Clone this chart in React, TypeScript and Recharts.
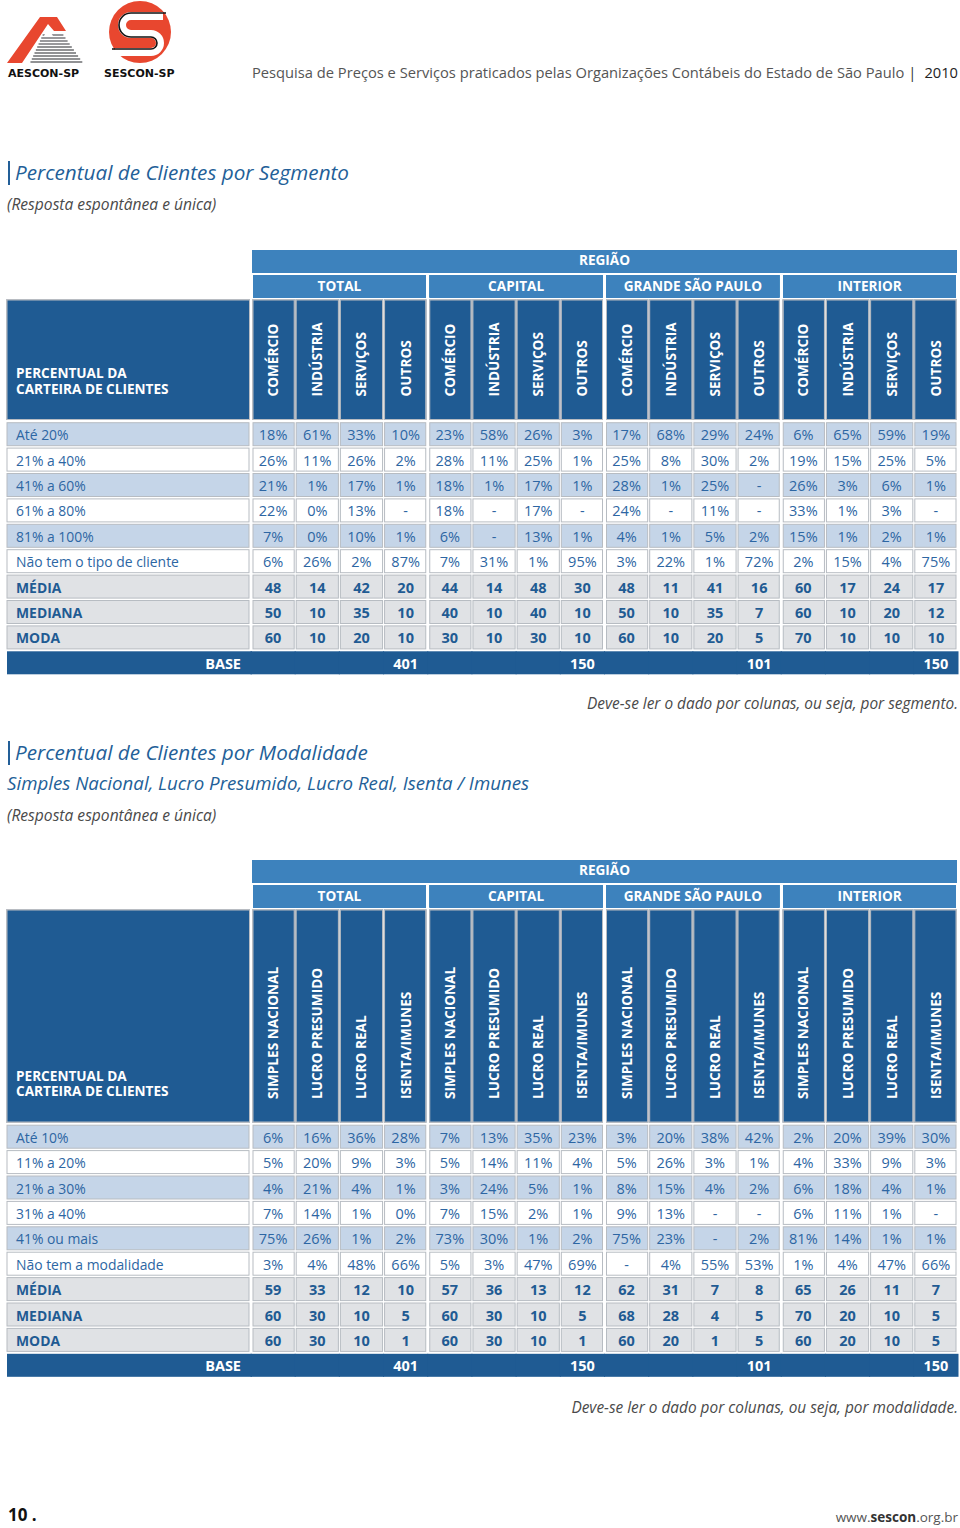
import React from 'react';
import { ScatterChart, Scatter, XAxis, YAxis } from 'recharts';

// header labels
const regionTitle = 'REGIÃO';
const regions = ['TOTAL', 'CAPITAL', 'GRANDE SÃO PAULO', 'INTERIOR'];
const segmentCols = ['COMÉRCIO', 'INDÚSTRIA', 'SERVIÇOS', 'OUTROS'];
const modalCols = ['SIMPLES NACIONAL', 'LUCRO PRESUMIDO', 'LUCRO REAL', 'ISENTA/IMUNES'];
const cornerLines = ['PERCENTUAL DA', 'CARTEIRA DE CLIENTES'];
const statLabels = ['MÉDIA', 'MEDIANA', 'MODA'];
const baseLabel = 'BASE';
const bases = ['401', '150', '101', '150'];

// table 1: por segmento
const segmentRows = ['Até 20%', '21% a 40%', '41% a 60%', '61% a 80%', '81% a 100%', 'Não tem o tipo de cliente', 'MÉDIA', 'MEDIANA', 'MODA'];
const segmentValues = [
  ['18%', '61%', '33%', '10%', '23%', '58%', '26%', '3%', '17%', '68%', '29%', '24%', '6%', '65%', '59%', '19%'],
  ['26%', '11%', '26%', '2%', '28%', '11%', '25%', '1%', '25%', '8%', '30%', '2%', '19%', '15%', '25%', '5%'],
  ['21%', '1%', '17%', '1%', '18%', '1%', '17%', '1%', '28%', '1%', '25%', '-', '26%', '3%', '6%', '1%'],
  ['22%', '0%', '13%', '-', '18%', '-', '17%', '-', '24%', '-', '11%', '-', '33%', '1%', '3%', '-'],
  ['7%', '0%', '10%', '1%', '6%', '-', '13%', '1%', '4%', '1%', '5%', '2%', '15%', '1%', '2%', '1%'],
  ['6%', '26%', '2%', '87%', '7%', '31%', '1%', '95%', '3%', '22%', '1%', '72%', '2%', '15%', '4%', '75%'],
  ['48', '14', '42', '20', '44', '14', '48', '30', '48', '11', '41', '16', '60', '17', '24', '17'],
  ['50', '10', '35', '10', '40', '10', '40', '10', '50', '10', '35', '7', '60', '10', '20', '12'],
  ['60', '10', '20', '10', '30', '10', '30', '10', '60', '10', '20', '5', '70', '10', '10', '10'],
];

// table 2: por modalidade
const modalRows = ['Até 10%', '11% a 20%', '21% a 30%', '31% a 40%', '41% ou mais', 'Não tem a modalidade', 'MÉDIA', 'MEDIANA', 'MODA'];
const modalValues = [
  ['6%', '16%', '36%', '28%', '7%', '13%', '35%', '23%', '3%', '20%', '38%', '42%', '2%', '20%', '39%', '30%'],
  ['5%', '20%', '9%', '3%', '5%', '14%', '11%', '4%', '5%', '26%', '3%', '1%', '4%', '33%', '9%', '3%'],
  ['4%', '21%', '4%', '1%', '3%', '24%', '5%', '1%', '8%', '15%', '4%', '2%', '6%', '18%', '4%', '1%'],
  ['7%', '14%', '1%', '0%', '7%', '15%', '2%', '1%', '9%', '13%', '-', '-', '6%', '11%', '1%', '-'],
  ['75%', '26%', '1%', '2%', '73%', '30%', '1%', '2%', '75%', '23%', '-', '2%', '81%', '14%', '1%', '1%'],
  ['3%', '4%', '48%', '66%', '5%', '3%', '47%', '69%', '-', '4%', '55%', '53%', '1%', '4%', '47%', '66%'],
  ['59', '33', '12', '10', '57', '36', '13', '12', '62', '31', '7', '8', '65', '26', '11', '7'],
  ['60', '30', '10', '5', '60', '30', '10', '5', '68', '28', '4', '5', '70', '20', '10', '5'],
  ['60', '30', '10', '1', '60', '30', '10', '1', '60', '20', '1', '5', '60', '20', '10', '5'],
];

const FONT = '"Open Sans", "Noto Sans", sans-serif';
const DARK = '#1f5b93';
const MID = '#3d82bd';
const LIGHT = '#c5d5e8';
const GREY = '#e0e2e5';
const LINE = '#b7bcc2';
const TEXT_BLUE = '#2d66a3';

const CHART_W = 960;
const RIGHT = 2;
const LEFT = 7;
const LABEL_W = 244;
const PLOT_LEFT = LEFT + LABEL_W;
const COL_W = (CHART_W - RIGHT - PLOT_LEFT) / 16;
const ROW_H = 25.4;
const HEAD_FS = 13.6;
const VAL_FS = 14.5;
const LABEL_FS = 13.9;

function rowFill(label: string, ri: number) {
  if (label === baseLabel) return DARK;
  if (statLabels.includes(label)) return GREY;
  return ri % 2 === 0 ? LIGHT : '#ffffff';
}

function SurveyTable({ cols, rows, values, headerH }: { cols: string[]; rows: string[]; values: string[][]; headerH: number }) {
  const colKeys = regions.flatMap((g) => cols.map((c) => `${g}|${c}`));
  const allRows = [...rows, baseLabel];
  const points = allRows.flatMap((row, ri) =>
    colKeys.map((col, ci) => ({
      col,
      row,
      ri,
      ci,
      v: row === baseLabel ? (ci % 4 === 3 ? bases[Math.floor(ci / 4)] : '') : values[ri][ci],
    }))
  );
  const height = headerH + allRows.length * ROW_H + 2;
  const colTop = 50;
  const colBottom = headerH - 2;

  const renderColTick = (props: any) => {
    const { x, payload } = props;
    const ci = colKeys.indexOf(payload.value);
    const [grp, name] = String(payload.value).split('|');
    const left = x - COL_W / 2;
    const gl = ci % 4 === 0 ? 1 : 0;
    const gr = ci % 4 === 3 ? 1 : 0;
    return (
      <g>
        {ci === 0 && (
          <g>
            <rect x={left + 1} y={0} width={COL_W * 16 - 2} height={22.5} fill={MID} />
            <text x={left + COL_W * 8} y={15} textAnchor="middle" fill="#fff" fontWeight={700} fontSize={HEAD_FS} fontFamily={FONT}>
              {regionTitle}
            </text>
            <rect x={LEFT} y={colTop} width={PLOT_LEFT - LEFT - 1.5} height={colBottom - colTop} fill={DARK} stroke={LINE} />
            <text x={LEFT + 9} y={headerH - 43.5} fill="#fff" fontWeight={700} fontSize={HEAD_FS} fontFamily={FONT}>
              {cornerLines.map((t, i) => (
                <tspan key={t} x={LEFT + 9} dy={i === 0 ? 0 : 15.5}>
                  {t}
                </tspan>
              ))}
            </text>
          </g>
        )}
        {ci % 4 === 0 && (
          <g>
            <rect x={left + 2} y={25} width={COL_W * 4 - 4} height={22.5} fill={MID} />
            <text x={left + COL_W * 2} y={41} textAnchor="middle" fill="#fff" fontWeight={700} fontSize={HEAD_FS} fontFamily={FONT}>
              {grp}
            </text>
          </g>
        )}
        <rect x={left + 1 + gl} y={colTop} width={COL_W - 2 - gl - gr} height={colBottom - colTop} fill={DARK} stroke={LINE} />
        <g transform={`translate(${x + 5} ${headerH - 25}) rotate(-90)`}>
          <text x={0} y={0} fill="#fff" fontWeight={700} fontSize={HEAD_FS} fontFamily={FONT}>
            {name}
          </text>
        </g>
      </g>
    );
  };

  const renderRowTick = (props: any) => {
    const { y, payload } = props;
    const label = String(payload.value);
    const ri = allRows.indexOf(label);
    const top = y - ROW_H / 2 + 1.2;
    if (label === baseLabel) {
      return (
        <g>
          <rect x={LEFT} y={top} width={PLOT_LEFT - LEFT + 1} height={ROW_H - 2.4} fill={DARK} />
          <text x={PLOT_LEFT - 10} y={y + 6} textAnchor="end" fill="#fff" fontWeight={700} fontSize={VAL_FS} fontFamily={FONT}>
            {label}
          </text>
        </g>
      );
    }
    const stat = statLabels.includes(label);
    return (
      <g>
        <rect x={LEFT} y={top} width={PLOT_LEFT - LEFT - 2} height={ROW_H - 2.4} fill={rowFill(label, ri)} stroke={LINE} />
        <text x={LEFT + 9} y={y + 6} fill={stat ? DARK : TEXT_BLUE} fontWeight={stat ? 700 : 400} fontSize={LABEL_FS} fontFamily={FONT}>
          {label}
        </text>
      </g>
    );
  };

  const renderCell = (props: any) => {
    const { cx, cy, payload } = props;
    const { ci, ri, row, v } = payload;
    const top = cy - ROW_H / 2 + 1.2;
    if (row === baseLabel) {
      return (
        <g>
          <rect x={cx - COL_W / 2 - 0.5} y={top} width={COL_W + 1} height={ROW_H - 2.4} fill={DARK} />
          {v && (
            <text x={cx} y={cy + 6} textAnchor="middle" fill="#fff" fontWeight={700} fontSize={VAL_FS} fontFamily={FONT}>
              {v}
            </text>
          )}
        </g>
      );
    }
    const gl = ci % 4 === 0 ? 1 : 0;
    const gr = ci % 4 === 3 ? 1 : 0;
    const stat = statLabels.includes(row);
    return (
      <g>
        <rect
          x={cx - COL_W / 2 + 1 + gl}
          y={top}
          width={COL_W - 2 - gl - gr}
          height={ROW_H - 2.4}
          fill={rowFill(row, ri)}
          stroke={LINE}
        />
        <text x={cx} y={cy + 6} textAnchor="middle" fill={stat ? DARK : TEXT_BLUE} fontWeight={stat ? 700 : 400} fontSize={VAL_FS} fontFamily={FONT}>
          {v}
        </text>
      </g>
    );
  };

  return (
    <ScatterChart width={CHART_W} height={height} margin={{ top: 0, right: RIGHT, bottom: 2, left: LEFT }}>
      <XAxis
        xAxisId="cols"
        type="category"
        dataKey="col"
        orientation="top"
        scale="band"
        allowDuplicatedCategory={false}
        height={headerH}
        tick={renderColTick}
        tickLine={false}
        axisLine={false}
        interval={0}
      />
      <YAxis
        yAxisId="rows"
        type="category"
        dataKey="row"
        scale="band"
        reversed
        allowDuplicatedCategory={false}
        width={LABEL_W}
        tick={renderRowTick}
        tickLine={false}
        axisLine={false}
        interval={0}
      />
      <Scatter xAxisId="cols" yAxisId="rows" data={points} shape={renderCell} isAnimationActive={false} />
    </ScatterChart>
  );
}

function Txt({ top, left, right, size, lh = 20, style, children }: any) {
  return (
    <div
      style={{
        position: 'absolute',
        top: top - lh / 2,
        left,
        right,
        fontSize: size,
        lineHeight: `${lh}px`,
        fontFamily: FONT,
        whiteSpace: 'nowrap',
        ...style,
      }}
    >
      {children}
    </div>
  );
}

function Logos() {
  const stripes = [35, 38, 41, 44, 47, 50, 53, 56, 59, 62];
  return (
    <svg width={200} height={90} style={{ position: 'absolute', left: 0, top: 0 }}>
      {stripes.map((y) => (
        <line key={y} x1={30 + (63 - y) * 0.45} x2={62 + (y - 33) * 0.7} y1={y} y2={y} stroke="#6d6e71" strokeWidth={1.4} />
      ))}
      <polygon points="44,36 53,36 48,28" fill="#fff" />
      <polygon points="7,63 40,17 57,17 66,31 54,31 48,24 22,63" fill="#e8472f" />
      <text x={8} y={77} fontSize={11} fontWeight={700} fontFamily='"DejaVu Sans", sans-serif' fill="#111">
        AESCON-SP
      </text>
      <circle cx={140} cy={32} r={31} fill="#e8472f" />
      <path d="M 163 16 H 131 a 9 9 0 0 0 0 18 H 151 a 9 9 0 0 1 0 18 H 115" fill="none" stroke="#fff" strokeWidth={8} />
      <path d="M 166 13 H 131 a 12 12 0 0 0 0 24 H 151 a 6 6 0 0 1 0 12 H 112" fill="none" stroke="#111" strokeWidth={1.6} />
      <text x={104} y={77} fontSize={11} fontWeight={700} fontFamily='"DejaVu Sans", sans-serif' fill="#111">
        SESCON-SP
      </text>
    </svg>
  );
}

export default function App() {
  const titleStyle = { fontStyle: 'italic', color: '#235f98' };
  const noteStyle = { fontStyle: 'italic', color: '#4a4a4a' };
  return (
    <div style={{ position: 'absolute', left: 0, top: 0, width: 960, height: 1528, background: '#fff', overflow: 'hidden' }}>
      <Logos />
      <Txt top={72} right={2} size={14.7} style={{ color: '#555' }}>
        Pesquisa de Preços e Serviços praticados pelas Organizações Contábeis do Estado de São Paulo
        <span style={{ color: '#333', margin: '0 8px 0 4px' }}>|</span>
        <span style={{ color: '#222' }}>2010</span>
      </Txt>

      <div style={{ position: 'absolute', left: 8, top: 161, width: 1.5, height: 24, background: '#235f98' }} />
      <Txt top={172} left={15} size={20.7} lh={26} style={titleStyle}>
        Percentual de Clientes por Segmento
      </Txt>
      <Txt top={204} left={7} size={15.6} style={noteStyle}>
        (Resposta espontânea e única)
      </Txt>

      <div style={{ position: 'absolute', left: 0, top: 250 }}>
        <SurveyTable cols={segmentCols} rows={segmentRows} values={segmentValues} headerH={171.5} />
      </div>

      <Txt top={704} right={2} size={15.4} style={noteStyle}>
        Deve-se ler o dado por colunas, ou seja, por segmento.
      </Txt>

      <div style={{ position: 'absolute', left: 8, top: 741, width: 1.5, height: 24, background: '#235f98' }} />
      <Txt top={752} left={15} size={20.7} lh={26} style={titleStyle}>
        Percentual de Clientes por Modalidade
      </Txt>
      <Txt top={783} left={7} size={18.7} lh={24} style={titleStyle}>
        Simples Nacional, Lucro Presumido, Lucro Real, Isenta / Imunes
      </Txt>
      <Txt top={815} left={7} size={15.6} style={noteStyle}>
        (Resposta espontânea e única)
      </Txt>

      <div style={{ position: 'absolute', left: 0, top: 860 }}>
        <SurveyTable cols={modalCols} rows={modalRows} values={modalValues} headerH={264} />
      </div>

      <Txt top={1408} right={2} size={15.4} style={noteStyle}>
        Deve-se ler o dado por colunas, ou seja, por modalidade.
      </Txt>

      <Txt top={1515} left={8} size={17} style={{ fontWeight: 700, color: '#111' }}>
        10 .
      </Txt>
      <Txt top={1517} right={2} size={13.5} style={{ color: '#555' }}>
        www.<span style={{ fontWeight: 700, color: '#333' }}>sescon</span>.org.br
      </Txt>
    </div>
  );
}
